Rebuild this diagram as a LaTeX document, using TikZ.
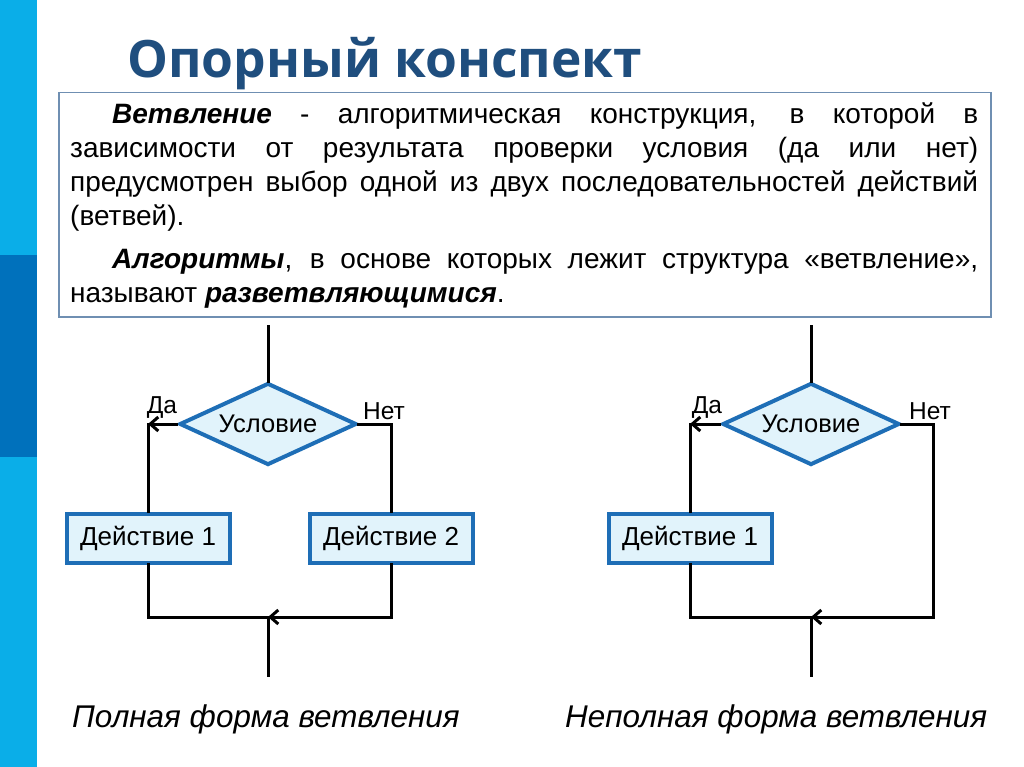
\documentclass[tikz,border=0pt]{standalone}
\usepackage{fontspec}
\setmainfont{Liberation Sans}
\newfontfamily\titlefont{Open Sans}
\usetikzlibrary{shapes.geometric,arrows.meta}
\definecolor{stripL}{HTML}{0AAEE8}
\definecolor{stripD}{HTML}{0071BC}
\definecolor{titleC}{HTML}{1F4E7E}
\definecolor{frameC}{HTML}{6F8FB2}
\definecolor{boxF}{HTML}{E1F3FB}
\definecolor{boxD}{HTML}{1E6EB6}
\begin{document}
\begin{tikzpicture}[x=1pt,y=-1pt,
  flow/.style={line width=3pt, black, line cap=rect},
  arr/.style={line width=3pt, black, -{Straight Barb[length=8pt,width=14pt]}},
  cond/.style={diamond, draw=boxD, fill=boxF, line width=4pt, minimum width=177pt,
    minimum height=82pt, inner sep=0pt, aspect=2.16, font=\fontsize{25.5}{28}\selectfont},
  act/.style={rectangle, draw=boxD, fill=boxF, line width=4pt, minimum width=163pt,
    minimum height=49pt, inner sep=0pt, font=\fontsize{26}{28}\selectfont},
  lbl/.style={inner sep=0pt, anchor=base, font=\fontsize{24.5}{28}\selectfont},
  captxt/.style={inner sep=0pt, anchor=base west, font=\fontsize{31.4}{34}\selectfont\itshape}]
\useasboundingbox (0,0) rectangle (1024,767);
\fill[white] (0,0) rectangle (1024,767);
% side strip
\fill[stripL] (0,0) rectangle (37,767);
\fill[stripD] (0,255) rectangle (37,457);
% title
\node[anchor=base west, inner sep=0pt, text=titleC,
  font=\titlefont\bfseries\fontsize{51.5}{60}\selectfont] (title) at (127,78) {Опорный конспект};
% definition box
\node[draw=frameC, line width=1.5pt, fill=white, anchor=north west,
  minimum width=932pt, minimum height=224pt, inner sep=0pt] (defbox) at (58,92) {};
\node[anchor=base west, inner sep=0pt] (deftext) at (70,124) {\parbox[t]{908pt}{%
  \fontsize{28}{34}\selectfont\tolerance=10000\noindent
  \hspace*{42pt}\textbf{\textit{Ветвление}} - алгоритмическая конструкция, в которой в\linebreak
  зависимости от результата проверки условия (да или нет)\linebreak
  предусмотрен выбор одной из двух последовательностей действий\linebreak
  (ветвей).\par\vspace{9pt}\noindent
  \hspace*{42pt}\textbf{\textit{Алгоритмы}}, в основе которых лежит структура «ветвление»,\linebreak
  называют \textbf{\textit{разветвляющимися}}.}};
% ---------- left chart: full form
\coordinate (Ltop) at (268,326);
\node[cond] (Lc) at (268,424) {Условие};
\node[act] (La1) at (148,538) {Действие 1};
\node[act] (La2) at (391,538) {Действие 2};
\coordinate (Lyes) at (148,424);
\coordinate (Lno) at (391,424);
\coordinate (Lj1) at (148,617);
\coordinate (Lj2) at (391,617);
\coordinate (Lm) at (268,617);
\coordinate (Lbot) at (268,675);
\draw[flow] (Ltop) -- (Lc.north);
\draw[arr] (Lc.west) -- (Lyes);
\draw[flow] (Lyes) -- (La1.north);
\draw[flow] (Lc.east) -- (Lno) -- (La2.north);
\draw[flow] (La1.south) -- (Lj1) -- (Lm);
\draw[arr, line cap=rect] (La2.south) -- (Lj2) -- (Lm);
\draw[flow] (Lm) -- (Lbot);
\node[lbl] (Lda) at (162,413) {Да};
\node[lbl] (Lnet) at (384,419) {Нет};
\node[captxt] (Lcap) at (72,727) {Полная форма ветвления};
% ---------- right chart: incomplete form
\coordinate (Rtop) at (811,326);
\node[cond] (Rc) at (811,424) {Условие};
\node[act] (Ra1) at (690,538) {Действие 1};
\coordinate (Ryes) at (690,424);
\coordinate (Rno) at (933,424);
\coordinate (Rj1) at (690,617);
\coordinate (Rj2) at (933,617);
\coordinate (Rm) at (811,617);
\coordinate (Rbot) at (811,675);
\draw[flow] (Rtop) -- (Rc.north);
\draw[arr] (Rc.west) -- (Ryes);
\draw[flow] (Ryes) -- (Ra1.north);
\draw[flow] (Ra1.south) -- (Rj1) -- (Rm);
\draw[arr, line cap=rect] (Rc.east) -- (Rno) -- (Rj2) -- (Rm);
\draw[flow] (Rm) -- (Rbot);
\node[lbl] (Rda) at (707,413) {Да};
\node[lbl] (Rnet) at (930,419) {Нет};
\node[captxt] (Rcap) at (565,727) {Неполная форма ветвления};
\end{tikzpicture}
\end{document}
